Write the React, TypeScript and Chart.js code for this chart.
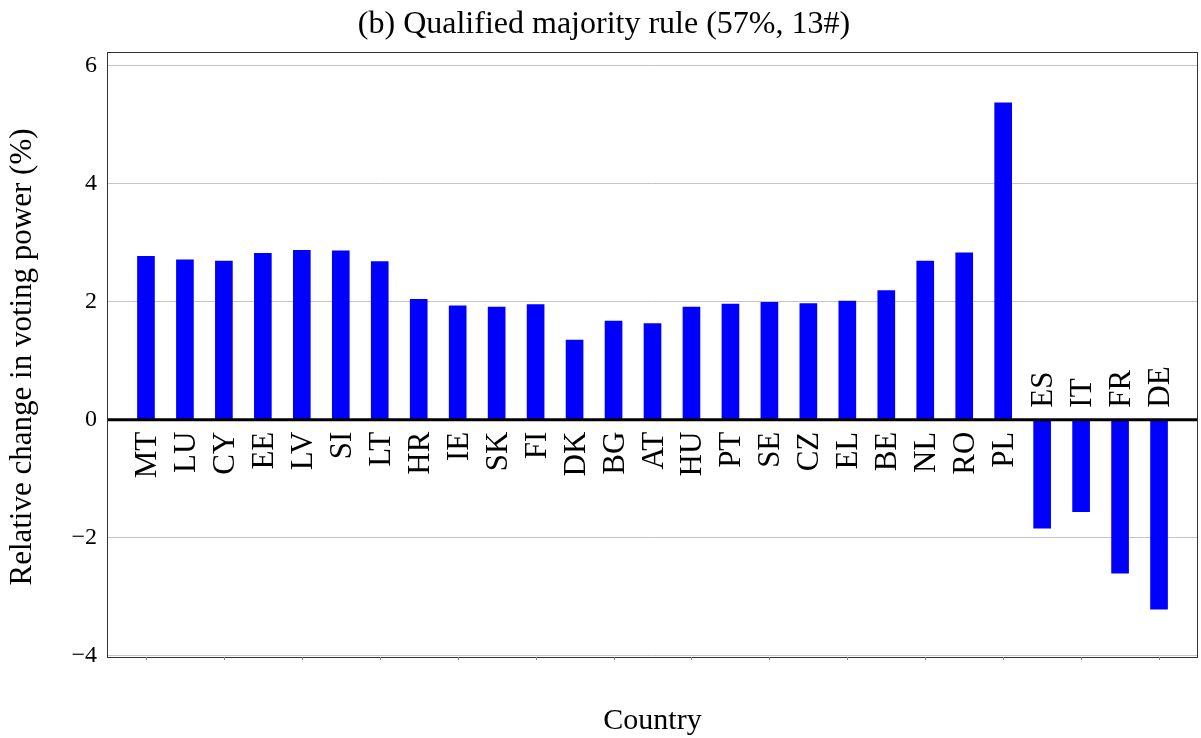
import React, { useEffect, useRef } from 'react';
import { Chart, registerables } from 'chart.js';

Chart.register(...registerables);

const countries = ['MT', 'LU', 'CY', 'EE', 'LV', 'SI', 'LT', 'HR', 'IE', 'SK', 'FI', 'DK', 'BG', 'AT', 'HU', 'PT', 'SE', 'CZ', 'EL', 'BE', 'NL', 'RO', 'PL', 'ES', 'IT', 'FR', 'DE'];
const changes = [2.77, 2.71, 2.69, 2.82, 2.87, 2.86, 2.68, 2.04, 1.93, 1.91, 1.95, 1.35, 1.67, 1.63, 1.91, 1.96, 1.99, 1.97, 2.01, 2.19, 2.69, 2.83, 5.37, -1.84, -1.56, -2.6, -3.21];
const yTicks = [-4, -2, 0, 2, 4, 6];
const titleText = '(b) Qualified majority rule (57%, 13#)';
const yTitleText = 'Relative change in voting power (%)';
const xTitleText = 'Country';

const FONT = "'Liberation Serif', 'Times New Roman', serif";

const overlay = {
  id: 'overlay',
  afterDatasetsDraw(chart: any) {
    const { ctx, chartArea: a, scales } = chart;
    const xs = scales.x;
    const ys = scales.y;
    const y0 = ys.getPixelForValue(0);
    ctx.save();
    // zero line
    ctx.strokeStyle = '#000';
    ctx.lineWidth = 3;
    ctx.beginPath();
    ctx.moveTo(a.left, y0);
    ctx.lineTo(a.right, y0);
    ctx.stroke();
    // axis box
    ctx.lineWidth = 1;
    ctx.strokeStyle = '#333';
    ctx.strokeRect(a.left + 0.5, a.top + 0.5, a.right - a.left - 1, a.bottom - a.top - 1);
    // small x ticks
    ctx.strokeStyle = '#888';
    for (let i = 0; i < countries.length; i += 2) {
      const x = Math.round(xs.getPixelForValue(i)) + 0.5;
      ctx.beginPath();
      ctx.moveTo(x, a.bottom - 1);
      ctx.lineTo(x, a.bottom + 2);
      ctx.stroke();
    }
    // country labels
    ctx.fillStyle = '#000';
    ctx.font = `31px ${FONT}`;
    ctx.textBaseline = 'alphabetic';
    countries.forEach((c, i) => {
      const x = xs.getPixelForValue(i);
      ctx.save();
      ctx.translate(x, y0);
      ctx.rotate(-Math.PI / 2);
      if (changes[i] >= 0) {
        ctx.textAlign = 'right';
        ctx.fillText(c, -12, 10);
      } else {
        ctx.textAlign = 'left';
        ctx.fillText(c, 12, 10);
      }
      ctx.restore();
    });
    // titles
    ctx.textAlign = 'center';
    ctx.font = `32px ${FONT}`;
    ctx.fillText(titleText, 604, 33);
    ctx.font = `30px ${FONT}`;
    ctx.fillText(xTitleText, (a.left + a.right) / 2, 729);
    ctx.save();
    ctx.translate(31, (a.top + a.bottom) / 2 + 2);
    ctx.rotate(-Math.PI / 2);
    ctx.font = `31px ${FONT}`;
    ctx.fillText(yTitleText, 0, 0);
    ctx.restore();
    ctx.restore();
  },
};

export default function App() {
  const ref = useRef<HTMLCanvasElement | null>(null);
  useEffect(() => {
    if (!ref.current) return;
    const chart = new Chart(ref.current, {
      type: 'bar',
      data: {
        datasets: [
          {
            data: changes.map((v, i) => ({ x: i, y: v })),
            backgroundColor: '#0000ff',
            borderWidth: 0,
            barThickness: 17,
          },
        ],
      },
      options: {
        animation: false,
        responsive: false,
        devicePixelRatio: 1,
        layout: { padding: { top: 52, right: 3, bottom: 0, left: 0 } },
        plugins: { legend: { display: false }, title: { display: false }, tooltip: { enabled: false } },
        scales: {
          x: {
            type: 'linear',
            min: -1,
            max: 27,
            offset: false,
            ticks: { display: false },
            grid: { display: false, offset: false },
            border: { display: false },
            afterFit: (s: any) => {
              s.height = 80;
            },
          },
          y: {
            min: -4.039,
            max: 6.232,
            afterBuildTicks: (s: any) => {
              s.ticks = yTicks.map((v) => ({ value: v }));
            },
            ticks: {
              color: '#000',
              font: { family: FONT, size: 24 },
              padding: 10,
              callback: (v: any) => (v < 0 ? '\u2212' + Math.abs(v) : String(v)),
            },
            grid: { color: '#c4c4c4', lineWidth: 1, drawTicks: false },
            border: { display: false },
            afterFit: (s: any) => {
              s.width = 107;
            },
          },
        },
      },
      plugins: [overlay],
    });
    return () => chart.destroy();
  }, []);
  return (
    <div style={{ position: 'fixed', left: 0, top: 0, width: 1201, height: 738, background: '#fff' }}>
      <canvas ref={ref} width={1201} height={738} style={{ display: 'block' }} />
    </div>
  );
}
